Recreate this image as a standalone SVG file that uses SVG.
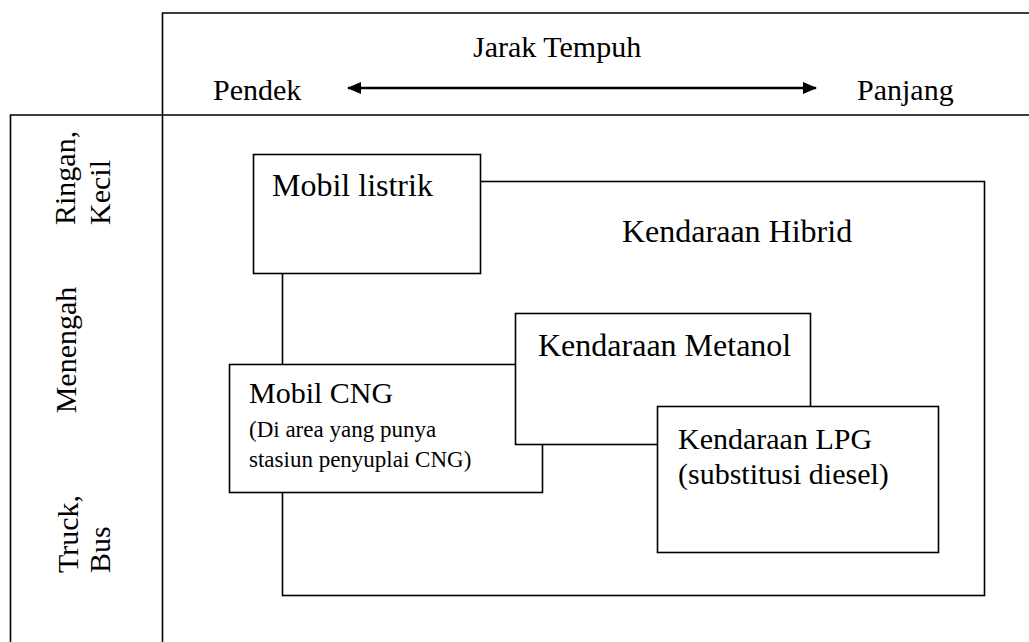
<svg xmlns="http://www.w3.org/2000/svg" width="1029" height="642" viewBox="0 0 1029 642">
<style>
.ln{stroke:#000;stroke-width:1.6;fill:none}
.bx{stroke:#000;stroke-width:1.6;fill:#fff}
text{font-family:"Liberation Serif","Times New Roman",serif;fill:#000}
.t{font-size:32px}
.m{font-size:30px}
.s{font-size:23px}
.h{font-size:30px}
</style>
<defs>
<marker id="ah" viewBox="0 0 14 12" refX="13" refY="6" markerWidth="14" markerHeight="12" markerUnits="userSpaceOnUse" orient="auto-start-reverse">
<path d="M0,0 L14,6 L0,12 Z" fill="#000"/>
</marker>
</defs>
<g id="grid">
<path class="ln" d="M1035,13 H162.5 V650"/>
<path class="ln" d="M10.5,650 V115 H1035"/>
</g>
<g id="header">
<text class="h" x="473" y="57">Jarak Tempuh</text>
<text class="h" x="213" y="100">Pendek</text>
<text class="h" x="857" y="100">Panjang</text>
</g>
<g id="axis-labels">
<text class="h" transform="translate(75,225) rotate(-90)">Ringan,</text>
<text class="h" transform="translate(110,225) rotate(-90)">Kecil</text>
<text class="h" text-anchor="middle" transform="translate(76,350) rotate(-90)">Menengah</text>
<text class="h" transform="translate(78,573) rotate(-90)">Truck,</text>
<text class="h" transform="translate(110,573) rotate(-90)">Bus</text>
</g>
<g id="connectors">
<line x1="348" y1="88" x2="816" y2="88" stroke="#000" stroke-width="2.6" marker-start="url(#ah)" marker-end="url(#ah)"/>
</g>
<g id="hybrid">
<rect class="ln" x="282.5" y="181.5" width="702" height="414"/>
<text class="t" x="622" y="242">Kendaraan Hibrid</text>
</g>
<g id="listrik">
<rect class="bx" x="253.5" y="154.5" width="227" height="119"/>
<text class="t" x="272" y="196">Mobil listrik</text>
</g>
<g id="cng">
<rect class="bx" x="229.5" y="364.5" width="313" height="128"/>
<text class="m" x="249" y="403">Mobil CNG</text>
<text class="s" x="249" y="437">(Di area yang punya</text>
<text class="s" x="249" y="467">stasiun penyuplai CNG)</text>
</g>
<g id="metanol">
<rect class="bx" x="515.5" y="313.5" width="295" height="131"/>
<text class="t" x="538" y="356">Kendaraan Metanol</text>
</g>
<g id="lpg">
<rect class="bx" x="657.5" y="406.5" width="281" height="146"/>
<text class="m" x="678" y="449">Kendaraan LPG</text>
<text class="m" x="678" y="484">(substitusi diesel)</text>
</g>
</svg>
